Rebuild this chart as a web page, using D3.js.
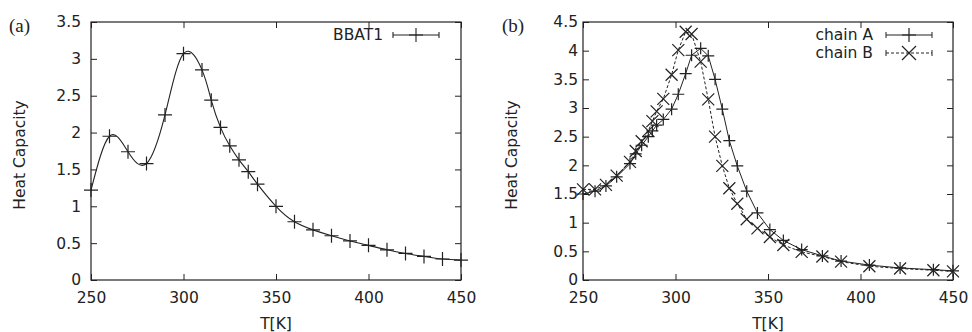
<!DOCTYPE html>
<html>
<head>
<meta charset="utf-8">
<script src="https://cdn.jsdelivr.net/npm/d3@7"></script>
<style>
  body { margin: 0; background: #fff; }
  svg { display: block; }
  text { font-family: "DejaVu Sans", sans-serif; fill: #222; }
</style>
</head>
<body>
<svg id="chart" width="972" height="332"></svg>
<script>
// panel (a): BBAT1
const tempA = [250, 260, 270, 280, 290, 300, 310, 315, 320, 325, 330, 335, 340, 350, 360, 370, 380, 390, 400, 410, 420, 430, 440, 450]
const bbat1 = [1.22, 1.95, 1.74, 1.58, 2.24, 3.07, 2.85, 2.44, 2.07, 1.82, 1.63, 1.47, 1.30, 1.0, 0.79, 0.68, 0.60, 0.53, 0.47, 0.41, 0.36, 0.32, 0.285, 0.27]

// panel (b): chain A / chain B, same temperature grid
const tempB = [250, 256.5, 262.4, 268.2, 275.4, 278.5, 281.7, 285.3, 287.5, 289.8, 293.4, 297.9, 301.5, 305.5, 308.7,
  313.6, 317.7, 321.4, 325.3, 329.1, 333.4, 338.5, 344.3, 351, 358.3, 368.2, 379.4, 389.5, 404.8, 421.4, 439.4, 450]
const chainA = [1.50, 1.55, 1.64, 1.80, 2.03, 2.20, 2.35, 2.50, 2.60, 2.70, 2.80, 2.98, 3.24, 3.60, 3.92,
  4.04, 3.91, 3.50, 2.98, 2.43, 1.99, 1.55, 1.17, 0.88, 0.69, 0.53, 0.42, 0.33, 0.26, 0.21, 0.18, 0.16]
const chainB = [1.58, 1.58, 1.66, 1.82, 2.06, 2.25, 2.42, 2.60, 2.77, 2.94, 3.16, 3.58, 4.01, 4.33, 4.29,
  3.81, 3.15, 2.50, 1.99, 1.60, 1.33, 1.06, 0.90, 0.75, 0.61, 0.49, 0.41, 0.32, 0.24, 0.20, 0.17, 0.15]

const xTicks = [250, 300, 350, 400, 450]
const yTicksA = [0, 0.5, 1, 1.5, 2, 2.5, 3, 3.5]
const yTicksB = [0, 0.5, 1, 1.5, 2, 2.5, 3, 3.5, 4, 4.5]

const TICK = 6
const svg = d3.select('#chart')

// gnuplot-ish markers
function plusPath(s) {
  return `M${-s},0H${s}M0,${-s}V${s}`
}
function crossPath(s) {
  return `M${-s},${-s}L${s},${s}M${-s},${s}L${s},${-s}`
}

function drawFrame(opts) {
  const { left, right, top, bottom, yMax, yTicks, tag, tagX, ylabX, yPad } = opts
  const x = d3.scaleLinear().domain([250, 450]).range([left, right])
  const y = d3.scaleLinear().domain([0, yMax]).range([bottom, top])
  const fmt = d3.format('')

  const styleAxis = (g) => {
    g.select('.domain').remove()
    g.selectAll('line').attr('stroke', '#222')
    g.selectAll('text').attr('font-size', 15.5).attr('font-family', '"DejaVu Sans", sans-serif').attr('fill', '#222')
  }

  svg.append('g').attr('transform', `translate(0,${bottom})`)
    .call(d3.axisBottom(x).tickValues(xTicks).tickSize(-TICK).tickPadding(12).tickFormat(fmt)).call(styleAxis)
  svg.append('g').attr('transform', `translate(0,${top})`)
    .call(d3.axisTop(x).tickValues(xTicks).tickSize(-TICK).tickFormat('')).call(styleAxis)
  svg.append('g').attr('transform', `translate(${left},0)`)
    .call(d3.axisLeft(y).tickValues(yTicks).tickSize(-TICK).tickPadding(yPad).tickFormat(fmt)).call(styleAxis)
  svg.append('g').attr('transform', `translate(${right},0)`)
    .call(d3.axisRight(y).tickValues(yTicks).tickSize(-TICK).tickFormat('')).call(styleAxis)

  svg.append('rect')
    .attr('x', left).attr('y', top)
    .attr('width', right - left).attr('height', bottom - top)
    .attr('fill', 'none').attr('stroke', '#222').attr('stroke-width', 1.2)

  svg.append('text')
    .attr('x', (left + right) / 2).attr('y', 329)
    .attr('text-anchor', 'middle').attr('font-size', 15.5)
    .text('T[K]')

  svg.append('text')
    .attr('transform', `translate(${ylabX},${(top + bottom) / 2 + 4}) rotate(-90)`)
    .attr('text-anchor', 'middle').attr('font-size', 15.5)
    .text('Heat Capacity')

  svg.append('text')
    .attr('x', tagX).attr('y', 32)
    .style('font-family', '"Liberation Serif", serif')
    .attr('font-size', 19)
    .text(tag)

  return { x, y }
}

// ---- panel (a)
{
  const { x, y } = drawFrame({ left: 91, right: 461, top: 22, bottom: 280, yMax: 3.5, yTicks: yTicksA, tag: '(a)', tagX: 9, ylabX: 25, yPad: 10 })
  const pts = tempA.map((t, i) => [t, bbat1[i]])

  svg.append('path')
    .datum(pts)
    .attr('fill', 'none').attr('stroke', '#222').attr('stroke-width', 1.1)
    .attr('d', d3.line().x((d) => x(d[0])).y((d) => y(d[1])).curve(d3.curveNatural))

  svg.append('g').selectAll('path')
    .data(pts).enter().append('path')
    .attr('transform', (d) => `translate(${x(d[0])},${y(d[1])})`)
    .attr('d', plusPath(7))
    .attr('stroke', '#222').attr('stroke-width', 1.2)

  // legend
  svg.append('text').attr('x', 383).attr('y', 40).attr('text-anchor', 'end').attr('font-size', 15.5).text('BBAT1')
  const lg = svg.append('g').attr('stroke', '#222').attr('stroke-width', 1.1)
  lg.append('line').attr('x1', 393).attr('x2', 439).attr('y1', 35).attr('y2', 35)
  lg.append('line').attr('x1', 393).attr('x2', 393).attr('y1', 32).attr('y2', 38)
  lg.append('line').attr('x1', 439).attr('x2', 439).attr('y1', 32).attr('y2', 38)
  lg.append('path').attr('transform', 'translate(416,35)').attr('d', plusPath(7))
}

// ---- panel (b)
{
  const { x, y } = drawFrame({ left: 583, right: 953, top: 22, bottom: 280, yMax: 4.5, yTicks: yTicksB, tag: '(b)', tagX: 502, ylabX: 517, yPad: 5 })
  const series = [
    { name: 'chain A', vals: chainA, marker: plusPath(6), dash: null },
    { name: 'chain B', vals: chainB, marker: crossPath(6), dash: '3,2' },
  ]

  series.forEach((s, k) => {
    const pts = tempB.map((t, i) => [t, s.vals[i]])
    svg.append('path')
      .datum(pts)
      .attr('fill', 'none').attr('stroke', '#222').attr('stroke-width', 1)
      .attr('stroke-dasharray', s.dash)
      .attr('d', d3.line().x((d) => x(d[0])).y((d) => y(d[1])))

    svg.append('g').selectAll('path')
      .data(pts).enter().append('path')
      .attr('transform', (d) => `translate(${x(d[0])},${y(d[1])})`)
      .attr('d', s.marker)
      .attr('stroke', '#222').attr('stroke-width', 1.2)

    const ly = 35 + k * 18
    svg.append('text').attr('x', 873).attr('y', ly + 5).attr('text-anchor', 'end').attr('font-size', 15.5).text(s.name)
    const lg = svg.append('g').attr('stroke', '#222').attr('stroke-width', 1)
    lg.append('line').attr('x1', 886).attr('x2', 932).attr('y1', ly).attr('y2', ly).attr('stroke-dasharray', s.dash)
    lg.append('line').attr('x1', 886).attr('x2', 886).attr('y1', ly - 3).attr('y2', ly + 3)
    lg.append('line').attr('x1', 932).attr('x2', 932).attr('y1', ly - 3).attr('y2', ly + 3)
    lg.append('path').attr('transform', `translate(909,${ly})`).attr('d', k === 0 ? plusPath(7) : crossPath(7)).attr('stroke-width', 1.2)
  })
}
</script>
</body>
</html>
